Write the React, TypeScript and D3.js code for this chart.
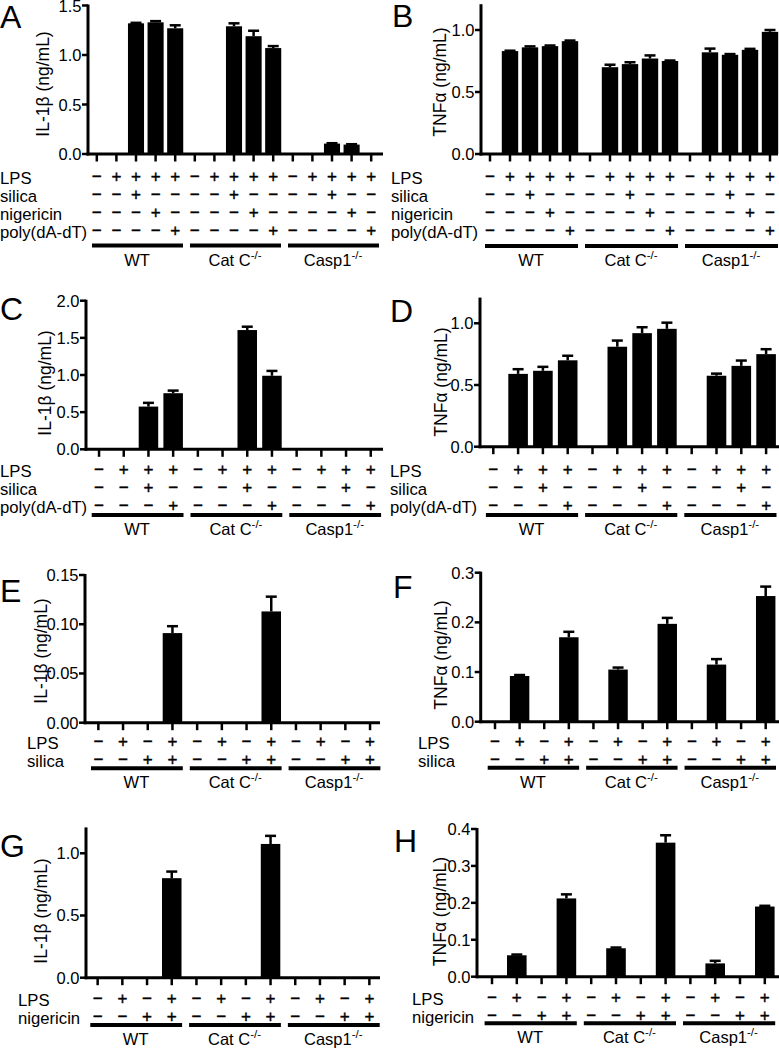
import * as d3 from "d3";

// genotypes shown under every panel
const genotypes = ["WT", "Cat C", "Casp1"];
const knockoutMark = ["", "-/-", "-/-"];

// treatment rows (one pattern per genotype, repeated for each group)
const rowsAB = ["LPS", "silica", "nigericin", "poly(dA-dT)"];
const signsAB = ["-++++", "--+--", "---+-", "----+"];
const rowsCD = ["LPS", "silica", "poly(dA-dT)"];
const signsCD = ["-+++", "--+-", "---+"];
const rowsEF = ["LPS", "silica"];
const signsEF = ["-+-+", "--++"];
const rowsGH = ["LPS", "nigericin"];
const signsGH = ["-+-+", "--++"];

// A: IL-1b, LPS + silica / nigericin / poly(dA-dT)
const aValues = [0, 0, 1.32, 1.33, 1.27, 0, 0, 1.29, 1.19, 1.07, 0, 0, 0.105, 0.095, 0];
const aErrors = [0, 0, 0.005, 0.012, 0.03, 0, 0, 0.03, 0.055, 0.02, 0, 0, 0.004, 0.004, 0];
const aTicks = [0, 0.5, 1.0, 1.5];
// B: TNFa
const bValues = [0, 0.83, 0.86, 0.87, 0.91, 0, 0.7, 0.725, 0.77, 0.75, 0, 0.82, 0.8, 0.84, 0.985];
const bErrors = [0, 0.003, 0.008, 0.005, 0.005, 0, 0.02, 0.015, 0.025, 0.004, 0, 0.03, 0.006, 0.008, 0.015];
const bTicks = [0, 0.5, 1.0];
// C: IL-1b, LPS + silica / poly(dA-dT)
const cValues = [0, 0, 0.575, 0.755, 0, 0, 1.605, 0.99, 0, 0, 0, 0];
const cErrors = [0, 0, 0.05, 0.035, 0, 0, 0.045, 0.065, 0, 0, 0, 0];
const cTicks = [0, 0.5, 1.0, 1.5, 2.0];
// D: TNFa
const dValues = [0, 0.59, 0.615, 0.7, 0, 0.81, 0.92, 0.955, 0, 0.575, 0.655, 0.75];
const dErrors = [0, 0.038, 0.032, 0.037, 0, 0.05, 0.048, 0.05, 0, 0.017, 0.043, 0.04];
const dTicks = [0, 0.5, 1.0];
// E: IL-1b, LPS x silica
const eValues = [0, 0, 0, 0.091, 0, 0, 0, 0.113, 0, 0, 0, 0];
const eErrors = [0, 0, 0, 0.007, 0, 0, 0, 0.015, 0, 0, 0, 0];
const eTicks = [0, 0.05, 0.1, 0.15];
// F: TNFa
const fValues = [0, 0.092, 0, 0.17, 0, 0.105, 0, 0.197, 0, 0.115, 0, 0.253];
const fErrors = [0, 0.002, 0, 0.011, 0, 0.004, 0, 0.012, 0, 0.011, 0, 0.019];
const fTicks = [0, 0.1, 0.2, 0.3];
// G: IL-1b, LPS x nigericin
const gValues = [0, 0, 0, 0.8, 0, 0, 0, 1.075, 0, 0, 0, 0];
const gErrors = [0, 0, 0, 0.053, 0, 0, 0, 0.065, 0, 0, 0, 0];
const gTicks = [0, 0.5, 1.0];
// H: TNFa
const hValues = [0, 0.058, 0, 0.212, 0, 0.077, 0, 0.363, 0, 0.036, 0, 0.19];
const hErrors = [0, 0.002, 0, 0.011, 0, 0.002, 0, 0.02, 0, 0.007, 0, 0.002];
const hTicks = [0, 0.1, 0.2, 0.3, 0.4];

const IL = "IL-1\u03B2 (ng/mL)";
const TNF = "TNF\u03B1 (ng/mL)";
const font = "'Liberation Sans', Arial, Helvetica, sans-serif";

const panels = [
  { letter: "A", lx: 0, ly: 28, title: IL, tx: 43, ty: 84, values: aValues, errors: aErrors, ticks: aTicks, fmt: ".1f",
    yMax: 1.5, y0: 154, yTop: 5.5, axisX: 88, b0: 87, b1: 381, xEnd: 383, pad: 0.18,
    rows: rowsAB, signs: signsAB, rowX: 0, rowY: 176, lineY: 245.5 },
  { letter: "B", lx: 392, ly: 27, title: TNF, tx: 440, ty: 82, values: bValues, errors: bErrors, ticks: bTicks, fmt: ".1f",
    yMax: 1.2, y0: 154, yTop: 5.2, axisX: 481, b0: 480, b1: 780, xEnd: 778, pad: 0.18,
    rows: rowsAB, signs: signsAB, rowX: 391, rowY: 176, lineY: 246 },
  { letter: "C", lx: 0, ly: 320, title: IL, tx: 44.5, ty: 383, values: cValues, errors: cErrors, ticks: cTicks, fmt: ".1f",
    yMax: 2.0, y0: 449.3, yTop: 300.7, axisX: 86, b0: 86.7, b1: 383.1, xEnd: 383, pad: 0.21,
    rows: rowsCD, signs: signsCD, rowX: 0, rowY: 469, lineY: 515 },
  { letter: "D", lx: 390, ly: 322, title: TNF, tx: 440.5, ty: 382, values: dValues, errors: dErrors, ticks: dTicks, fmt: ".1f",
    yMax: 1.2, y0: 446.7, yTop: 298.6, axisX: 480, b0: 480.9, b1: 778.5, xEnd: 779, pad: 0.21,
    rows: rowsCD, signs: signsCD, rowX: 390, rowY: 469, lineY: 515 },
  { letter: "E", lx: 0, ly: 602, title: IL, tx: 40.5, ty: 651, values: eValues, errors: eErrors, ticks: eTicks, fmt: ".2f",
    yMax: 0.15, y0: 722.7, yTop: 575, axisX: 85, b0: 86, b1: 382.4, xEnd: 380, pad: 0.21,
    rows: rowsEF, signs: signsEF, rowX: 27, rowY: 741, lineY: 768.3 },
  { letter: "F", lx: 393, ly: 598, title: TNF, tx: 440.5, ty: 655, values: fValues, errors: fErrors, ticks: fTicks, fmt: ".1f",
    yMax: 0.3, y0: 721.7, yTop: 572.7, axisX: 480.7, b0: 482.7, b1: 778, xEnd: 779, pad: 0.21,
    rows: rowsEF, signs: signsEF, rowX: 418, rowY: 741, lineY: 767.7 },
  { letter: "G", lx: 0, ly: 857, title: IL, tx: 40.5, ty: 911, values: gValues, errors: gErrors, ticks: gTicks, fmt: ".1f",
    yMax: 1.2, y0: 977.7, yTop: 828.4, axisX: 86, b0: 85.3, b1: 381.7, xEnd: 380, pad: 0.21,
    rows: rowsGH, signs: signsGH, rowX: 18, rowY: 998, lineY: 1025 },
  { letter: "H", lx: 394, ly: 852, title: TNF, tx: 439.5, ty: 911.5, values: hValues, errors: hErrors, ticks: hTicks, fmt: ".1f",
    yMax: 0.4, y0: 976.7, yTop: 829, axisX: 477, b0: 479.6, b1: 777.2, xEnd: 779, pad: 0.21,
    rows: rowsGH, signs: signsGH, rowX: 412, rowY: 997, lineY: 1023.3 },
];

function Panel({ p }: { p: any }) {
  const n = p.values.length;
  const per = n / genotypes.length;
  const idx = p.values.map((_: number, i: number) => i);
  const x = d3.scaleBand<number>().domain(idx).range([p.b0, p.b1])
    .paddingInner(p.pad).paddingOuter(p.pad / 2);
  const y = d3.scaleLinear().domain([0, p.yMax]).range([p.y0, p.yTop]);
  const cx = (i: number) => (x(i) as number) + x.bandwidth() / 2;
  const half = x.step() / 2;
  const fmt = d3.format(p.fmt);
  const rowStep = 18;

  return (
    <g>
      <text x={p.lx} y={p.ly} fontSize={32}>{p.letter}</text>
      <text transform={`translate(${p.tx},${p.ty}) rotate(-90)`} textAnchor="middle"
        dominantBaseline="central" fontSize={17.5}>{p.title}</text>

      {/* bars */}
      {p.values.map((v: number, i: number) => v > 0 && (
        <rect key={"b" + i} x={x(i)} y={y(v)} width={x.bandwidth()} height={p.y0 - y(v)} fill="#000" />
      ))}
      {/* error bars (upper only) */}
      {p.values.map((v: number, i: number) => p.errors[i] > 0 && (
        <g key={"e" + i} stroke="#000" strokeWidth={2.5}>
          <line x1={cx(i)} x2={cx(i)} y1={y(v)} y2={y(v + p.errors[i])} />
          <line x1={cx(i) - 5.5} x2={cx(i) + 5.5} y1={y(v + p.errors[i])} y2={y(v + p.errors[i])} />
        </g>
      ))}

      {/* y axis */}
      <line x1={p.axisX} x2={p.axisX} y1={p.y0 + 1.5} y2={p.yTop - 1} stroke="#000" strokeWidth={3} />
      {p.ticks.map((t: number) => (
        <g key={"t" + t}>
          <line x1={p.axisX - 6} x2={p.axisX} y1={y(t)} y2={y(t)} stroke="#000" strokeWidth={2.5} />
          <text x={p.axisX - 6.5} y={y(t) + 6} textAnchor="end" fontSize={16.5}>{fmt(t)}</text>
        </g>
      ))}

      {/* x axis */}
      <line x1={p.axisX - 1.5} x2={p.xEnd} y1={p.y0} y2={p.y0} stroke="#000" strokeWidth={3} />
      {idx.map((i: number) => (
        <line key={"x" + i} x1={cx(i)} x2={cx(i)} y1={p.y0} y2={p.y0 + 7.5} stroke="#000" strokeWidth={2.5} />
      ))}

      {/* treatment table */}
      {p.rows.map((r: string, ri: number) => (
        <g key={"r" + r}>
          <text x={p.rowX} y={p.rowY + ri * rowStep + 8} fontSize={16.7}>{r}</text>
          {idx.map((i: number) => (
            <text key={i} x={cx(i)} y={p.rowY + ri * rowStep + 6} textAnchor="middle" fontSize={17}
              fill="#000" stroke="#000" strokeWidth={0.4}>
              {p.signs[ri][i % per] === "+" ? "+" : "\u2212"}
            </text>
          ))}
        </g>
      ))}

      {/* genotype groups */}
      {genotypes.map((g, gi) => {
        const s = cx(gi * per) - half;
        const e = cx(gi * per + per - 1) + half;
        return (
          <g key={g}>
            <line x1={s + 5} x2={e - 2} y1={p.lineY} y2={p.lineY} stroke="#000" strokeWidth={4} />
            <text x={(s + e) / 2 + 1} y={p.lineY + 20} textAnchor="middle" fontSize={16.5}>
              {g}
              {knockoutMark[gi] && <tspan dy={-7} fontSize={11.5}>{knockoutMark[gi]}</tspan>}
            </text>
          </g>
        );
      })}
    </g>
  );
}

export default function App() {
  return (
    <div style={{ position: "absolute", left: 0, top: 0 }}>
      <svg width={779} height={1048} fontFamily={font} style={{ display: "block", background: "#fff" }}>
        {panels.map((p) => <Panel key={p.letter} p={p} />)}
      </svg>
    </div>
  );
}
